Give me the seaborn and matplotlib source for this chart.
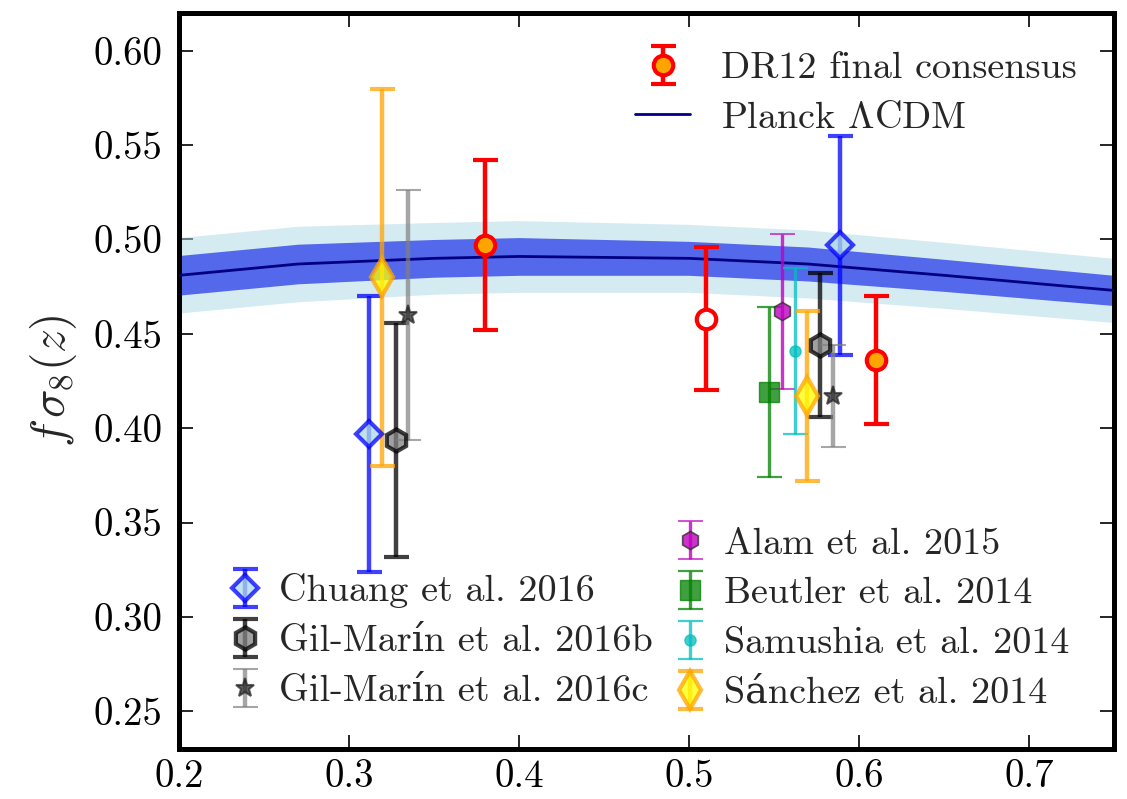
import numpy as np
import pandas as pd
import matplotlib
matplotlib.use("Agg")
import matplotlib.pyplot as plt
import seaborn as sns

# Planck LCDM prediction for f*sigma8(z) with 1 and 2 sigma widths
model_z = [0.20, 0.27, 0.35, 0.40, 0.50, 0.57, 0.65, 0.75]
model_fs8 = [0.481, 0.487, 0.490, 0.491, 0.490, 0.487, 0.481, 0.473]
model_sig1 = [0.0105, 0.0105, 0.010, 0.010, 0.009, 0.009, 0.0085, 0.008]
model_sig2 = [0.020, 0.020, 0.019, 0.019, 0.018, 0.018, 0.0175, 0.017]

# DR12 consensus measurements
dr12_z = [0.38, 0.51, 0.61]
dr12_fs8 = [0.497, 0.458, 0.436]
dr12_err = [0.045, 0.038, 0.034]

# Other BOSS measurements
chuang_z = [0.312, 0.589]
chuang_fs8 = [0.397, 0.497]
chuang_err = [0.073, 0.058]

gmb_z = [0.3275, 0.577]
gmb_fs8 = [0.394, 0.444]
gmb_err = [0.062, 0.038]

gmc_z = [0.3347, 0.5847]
gmc_fs8 = [0.460, 0.417]
gmc_err = [0.066, 0.027]

alam_z = [0.5547]
alam_fs8 = [0.462]
alam_err = [0.041]

beutler_z = [0.547]
beutler_fs8 = [0.419]
beutler_err = [0.045]

samushia_z = [0.5624]
samushia_fs8 = [0.441]
samushia_err = [0.044]

sanchez_z = [0.3194, 0.5694]
sanchez_fs8 = [0.480, 0.417]
sanchez_err = [0.100, 0.045]

x_ticks = [0.2, 0.3, 0.4, 0.5, 0.6, 0.7]
y_ticks = [0.25, 0.30, 0.35, 0.40, 0.45, 0.50, 0.55, 0.60]

sns.set_theme(style="ticks", color_codes=False)
plt.rcParams["font.family"] = ["cmr10", "DejaVu Serif"]
plt.rcParams["mathtext.fontset"] = "cm"
plt.rcParams["axes.formatter.use_mathtext"] = True
plt.rcParams["axes.unicode_minus"] = False

MAGENTA = "#bf00bf"
CYAN = "#00bfbf"
GREEN = "#008000"

fig = plt.figure(figsize=(11.27, 7.99), dpi=100)
ax = fig.add_axes([0.1588, 0.0626, 0.8297, 0.9211])

mz = np.array(model_z)
mf = np.array(model_fs8)
s1 = np.array(model_sig1)
s2 = np.array(model_sig2)
ax.fill_between(mz, mf - s2, mf + s2, color="lightblue", alpha=0.5, lw=0, zorder=1)
ax.fill_between(mz, mf - s1, mf + s1, color="#5468ec", lw=0, zorder=2)
model_df = pd.DataFrame({"z": model_z, "fs8": model_fs8})
sns.lineplot(data=model_df, x="z", y="fs8", ax=ax, color="navy", lw=2,
             zorder=3, legend=False)

thick = dict(capsize=9, elinewidth=3.2, capthick=3.2, ls="none")
thin = dict(capsize=9, elinewidth=2.4, capthick=1.6, ls="none")

h_chuang = ax.errorbar(chuang_z, chuang_fs8, yerr=chuang_err, color="blue", alpha=0.75,
                       marker="D", ms=13, mfc="lightblue", mec="blue", mew=3,
                       zorder=5, **thick)
h_gmb = ax.errorbar(gmb_z, gmb_fs8, yerr=gmb_err, color="black", alpha=0.75,
                    marker="h", ms=16, mfc="gray", mec="black", mew=3,
                    zorder=5, **thick)
h_gmc = ax.errorbar(gmc_z, gmc_fs8, yerr=gmc_err, color="gray", alpha=0.7,
                    marker="*", ms=14, mfc="#202020", mec="#202020", mew=1.5,
                    zorder=5, **thick)
h_alam = ax.errorbar(alam_z, alam_fs8, yerr=alam_err, color=MAGENTA, alpha=0.8,
                     marker="h", ms=13, mfc=MAGENTA, mec="#303030", mew=1.2,
                     zorder=5, **thin)
h_beutler = ax.errorbar(beutler_z, beutler_fs8, yerr=beutler_err, color=GREEN, alpha=0.75,
                        marker="s", ms=14, mfc=GREEN, mec=GREEN,
                        zorder=5, **thin)
h_samushia = ax.errorbar(samushia_z, samushia_fs8, yerr=samushia_err, color=CYAN, alpha=0.75,
                         marker="o", ms=8, mfc=CYAN, mec=CYAN,
                         zorder=5, **thin)
h_sanchez = ax.errorbar(sanchez_z, sanchez_fs8, yerr=sanchez_err, color="orange", alpha=0.75,
                        marker="d", ms=19, mfc="yellow", mec="orange", mew=3,
                        zorder=5, **thick)

# DR12 points: open circle for the middle bin, orange fill for the others
fills = ["orange", "white", "orange"]
h_dr12 = None
for z, f, e, fc in zip(dr12_z, dr12_fs8, dr12_err, fills):
    h = ax.errorbar([z], [f], yerr=[e], color="red", marker="o", ms=14,
                    mfc=fc, mec="red", mew=3, zorder=6, **thick)
    if h_dr12 is None:
        h_dr12 = h

ax.set_xlim(0.2, 0.75)
ax.set_ylim(0.23, 0.62)
ax.set_xticks(x_ticks)
ax.set_yticks(y_ticks)
ax.set_xticklabels([f"{v:.1f}" for v in x_ticks])
ax.set_yticklabels([f"{v:.2f}" for v in y_ticks])
ax.set_xlabel("")
ax.set_ylabel(r"$f\,\sigma_8(z)$", fontsize=34, labelpad=10)
ax.tick_params(direction="in", length=10, width=1.2, labelsize=28, pad=12,
               top=True, right=True, colors="black")
ax.tick_params(axis="x", pad=7)
for sp in ax.spines.values():
    sp.set_linewidth(3.6)
    sp.set_color("black")

line_handle = ax.get_lines()[0]
LEG_FS = 27.5
LS = 0.42
leg1 = ax.legend([h_dr12, line_handle], ["DR12 final consensus", r"Planck $\Lambda$CDM"],
                 loc="upper left", bbox_to_anchor=(0.4877, 0.948), frameon=False,
                 fontsize=LEG_FS, handlelength=1.45, handletextpad=0.8,
                 borderpad=0, borderaxespad=0, labelspacing=LS, numpoints=1)
ax.add_artist(leg1)

leg2 = ax.legend([h_chuang, h_gmb, h_gmc],
                 ["Chuang et al. 2016", "Gil-Marín et al. 2016b", "Gil-Marín et al. 2016c"],
                 loc="lower left", bbox_to_anchor=(0.0583, 0.0557), frameon=False,
                 fontsize=LEG_FS, handlelength=0.6, handletextpad=0.6,
                 borderpad=0, borderaxespad=0, labelspacing=LS, numpoints=1)
ax.add_artist(leg2)

ax.legend([h_alam, h_beutler, h_samushia, h_sanchez],
          ["Alam et al. 2015", "Beutler et al. 2014", "Samushia et al. 2014", "Sánchez et al. 2014"],
          loc="lower left", bbox_to_anchor=(0.534, 0.053), frameon=False,
          fontsize=LEG_FS, handlelength=0.6, handletextpad=0.6,
          borderpad=0, borderaxespad=0, labelspacing=LS, numpoints=1)

fig.savefig("out.png", dpi=100)
